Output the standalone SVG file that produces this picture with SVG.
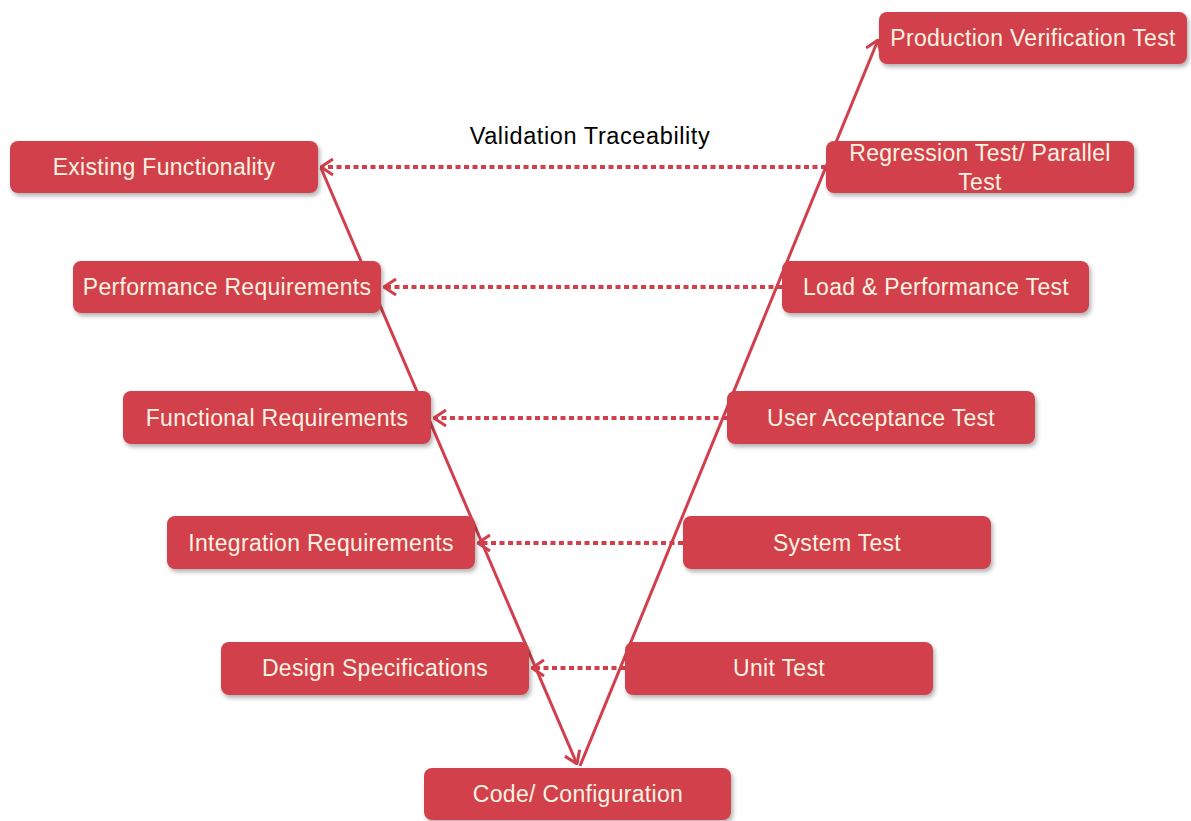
<svg xmlns="http://www.w3.org/2000/svg" width="1191" height="821" viewBox="0 0 1191 821">
<style>
.box{fill:#D13F4C;}
.lbl{font-family:"Liberation Sans",Arial,sans-serif;font-size:23px;letter-spacing:0.3px;fill:#FFF3E2;text-anchor:middle;}
.title{font-family:"Liberation Sans",Arial,sans-serif;font-size:23.5px;letter-spacing:0.6px;fill:#000;text-anchor:middle;}
.solid{stroke:#D13F4C;stroke-width:3;fill:none;}
.dot{stroke:#D13F4C;stroke-width:4;fill:none;stroke-dasharray:5 3.5;}
</style>
<defs>
<filter id="sh" x="-10%" y="-20%" width="120%" height="150%">
<feDropShadow dx="2" dy="3" stdDeviation="2" flood-color="#000" flood-opacity="0.3"/>
</filter>
<marker id="ah" viewBox="0 0 14 18" refX="13" refY="9" markerWidth="14" markerHeight="18" markerUnits="userSpaceOnUse" orient="auto">
<path d="M1,1 L13,9 L1,17" fill="none" stroke="#D13F4C" stroke-width="3"/>
</marker>
</defs>
<rect width="1191" height="821" fill="#fff"/>
<g id="connectors">
<line class="solid" x1="321" y1="168" x2="577" y2="764" marker-end="url(#ah)"/>
<line class="solid" x1="580" y1="766" x2="878" y2="40" marker-end="url(#ah)"/>
<line class="dot" x1="826" y1="167" x2="321" y2="167" marker-end="url(#ah)"/>
<line class="dot" x1="782" y1="287" x2="384" y2="287" marker-end="url(#ah)"/>
<line class="dot" x1="727" y1="418" x2="434" y2="418" marker-end="url(#ah)"/>
<line class="dot" x1="683" y1="543" x2="478" y2="543" marker-end="url(#ah)"/>
<line class="dot" x1="625" y1="668" x2="532" y2="668" marker-end="url(#ah)"/>
</g>
<text class="title" x="590" y="144">Validation Traceability</text>
<g id="existing"><rect class="box" filter="url(#sh)" x="10" y="141" width="308" height="52" rx="8"/><text class="lbl" x="164" y="175">Existing Functionality</text></g>
<g id="performance"><rect class="box" filter="url(#sh)" x="73" y="261" width="308" height="52" rx="8"/><text class="lbl" x="227" y="295">Performance Requirements</text></g>
<g id="functional"><rect class="box" filter="url(#sh)" x="123" y="391" width="308" height="53" rx="8"/><text class="lbl" x="277" y="426">Functional Requirements</text></g>
<g id="integration"><rect class="box" filter="url(#sh)" x="167" y="516" width="308" height="53" rx="8"/><text class="lbl" x="321" y="551">Integration Requirements</text></g>
<g id="design"><rect class="box" filter="url(#sh)" x="221" y="642" width="308" height="53" rx="8"/><text class="lbl" x="375" y="676">Design Specifications</text></g>
<g id="code"><rect class="box" filter="url(#sh)" x="424" y="768" width="307" height="52" rx="8"/><text class="lbl" x="578" y="802">Code/ Configuration</text></g>
<g id="production"><rect class="box" filter="url(#sh)" x="879" y="12" width="308" height="52" rx="8"/><text class="lbl" x="1033" y="46">Production Verification Test</text></g>
<g id="regression"><rect class="box" filter="url(#sh)" x="826" y="141" width="308" height="52" rx="8"/><text class="lbl" x="980" y="161">Regression Test/ Parallel</text><text class="lbl" x="980" y="190">Test</text></g>
<g id="load"><rect class="box" filter="url(#sh)" x="782" y="261" width="307" height="52" rx="8"/><text class="lbl" x="936" y="295">Load &amp; Performance Test</text></g>
<g id="uat"><rect class="box" filter="url(#sh)" x="727" y="391" width="308" height="53" rx="8"/><text class="lbl" x="881" y="426">User Acceptance Test</text></g>
<g id="system"><rect class="box" filter="url(#sh)" x="683" y="516" width="308" height="53" rx="8"/><text class="lbl" x="837" y="551">System Test</text></g>
<g id="unit"><rect class="box" filter="url(#sh)" x="625" y="642" width="308" height="53" rx="8"/><text class="lbl" x="779" y="676">Unit Test</text></g>
</svg>
